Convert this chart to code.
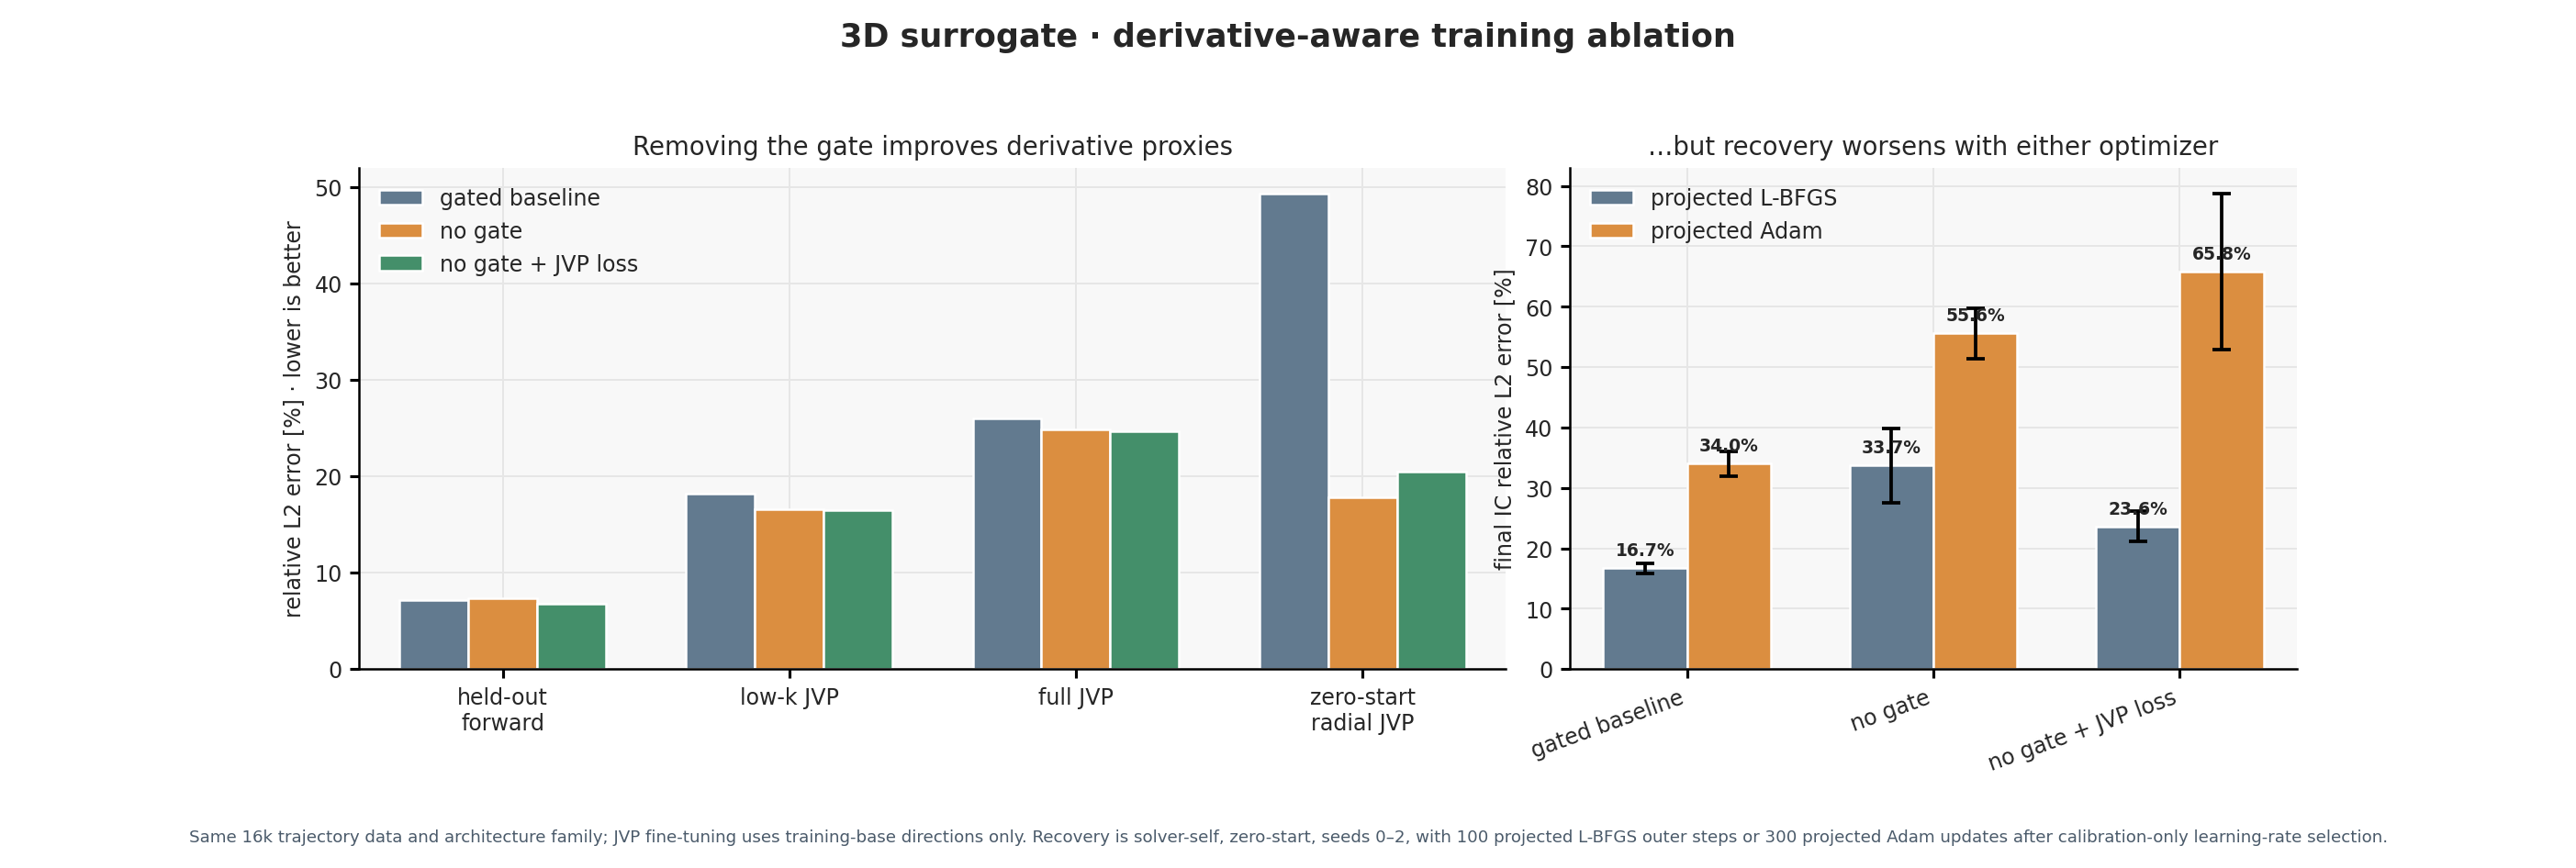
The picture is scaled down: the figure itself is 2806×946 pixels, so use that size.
import numpy as np, pandas as pd, seaborn as sns, matplotlib
matplotlib.use("Agg")
import matplotlib.pyplot as plt

metrics = ["held-out\nforward", "low-k JVP", "full JVP", "zero-start\nradial JVP"]
variants = ["gated baseline", "no gate", "no gate + JVP loss"]
gated_vals = [7.2, 18.2, 26.0, 49.3]
nogate_vals = [7.3, 16.6, 24.9, 17.8]
jvp_vals = [6.8, 16.5, 24.7, 20.5]

models = ["gated baseline", "no gate", "no gate + JVP loss"]
optimizers = ["projected L-BFGS", "projected Adam"]
lbfgs_vals = [16.7, 33.7, 23.6]
lbfgs_err = [0.8, 6.1, 2.5]
adam_vals = [34.0, 55.6, 65.8]
adam_err = [2.1, 4.2, 12.9]

colors3 = ["#627a8f", "#db8e40", "#448f6a"]

sns.set_theme(style="whitegrid")
plt.rcParams['font.family'] = ['DejaVu Sans']

fig = plt.figure(figsize=(15.59, 5.26), dpi=180)
ax1 = fig.add_axes([0.1395, 0.229, 0.445, 0.577])
ax2 = fig.add_axes([0.6095, 0.229, 0.282, 0.577])

df1 = pd.DataFrame({
    "metric": np.repeat(metrics, 3),
    "variant": variants * 4,
    "value": [v for trio in zip(gated_vals, nogate_vals, jvp_vals) for v in trio],
})
sns.barplot(data=df1, x="metric", y="value", hue="variant", hue_order=variants,
            palette=colors3, width=0.72, gap=0, saturation=1, ax=ax1, errorbar=None)

df2 = pd.DataFrame({
    "model": models * 2,
    "opt": [optimizers[0]] * 3 + [optimizers[1]] * 3,
    "value": lbfgs_vals + adam_vals,
})
sns.barplot(data=df2, x="model", y="value", hue="opt", hue_order=optimizers,
            palette=colors3[:2], width=0.68, gap=0, saturation=1, ax=ax2, errorbar=None)

errs = lbfgs_err + adam_err
vals = lbfgs_vals + adam_vals
for p, v, e in zip(ax2.patches[:6], vals, errs):
    cx = p.get_x() + p.get_width() / 2
    ax2.errorbar(cx, v, yerr=e, color="black", capsize=4, lw=1.5, capthick=1.5)
    ax2.text(cx, v + 1.5, f"{v:.1f}%", ha="center", va="bottom", fontsize=7.5, fontweight="bold")

for ax in (ax1, ax2):
    ax.set_facecolor("#f8f8f8")
    ax.grid(True, color="#e6e6e6", lw=0.8)
    ax.set_axisbelow(True)
    for s in ("top", "right"):
        ax.spines[s].set_visible(False)
    for s in ("left", "bottom"):
        ax.spines[s].set_color("black")
        ax.spines[s].set_linewidth(1.0)
    ax.tick_params(axis="both", length=4, color="black", labelsize=9.5, left=True, bottom=True)
    ax.set_xlabel("")
    ax.legend(loc="upper left", frameon=False, fontsize=9.5)

ax1.set_ylim(0, 52)
ax1.set_ylabel("relative L2 error [%] · lower is better", fontsize=9.5)
ax1.set_title("Removing the gate improves derivative proxies", fontsize=11)
ax2.set_ylim(0, 83)
ax2.set_yticks(range(0, 81, 10))
ax2.set_ylabel("final IC relative L2 error [%]", fontsize=9.5)
ax2.set_title("…but recovery worsens with either optimizer", fontsize=11)
plt.setp(ax2.get_xticklabels(), rotation=20, ha="right")

fig.suptitle("3D surrogate · derivative-aware training ablation", fontsize=14, fontweight="bold", y=0.975)
fig.text(0.5, 0.03, "Same 16k trajectory data and architecture family; JVP fine-tuning uses training-base directions only. "
         "Recovery is solver-self, zero-start, seeds 0–2, with 100 projected L-BFGS outer steps or 300 projected Adam updates "
         "after calibration-only learning-rate selection.", ha="center", fontsize=7.3, color="#4a5a6a")
fig.savefig("out.png", dpi=180)
